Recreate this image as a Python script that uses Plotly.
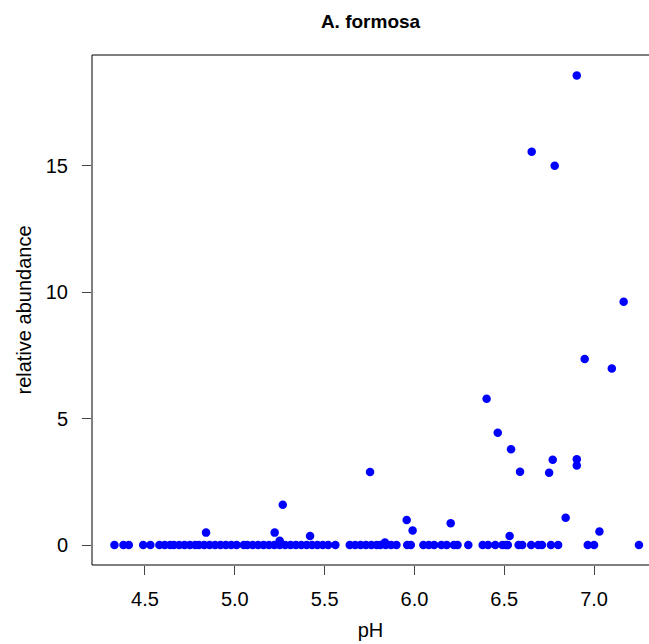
import plotly.graph_objects as go

# Elevated (non-zero) observations
ph_pos = [6.904, 6.653, 6.781, 7.165, 6.948, 7.099, 6.402, 6.464, 6.538, 6.770,
          6.904, 6.904, 6.588, 6.750, 5.753, 6.842, 5.267, 5.957, 6.202, 5.990,
          7.030, 4.840, 5.222, 5.419, 6.530, 5.250, 5.836]
abund_pos = [18.56, 15.55, 14.99, 9.62, 7.35, 6.98, 5.78, 4.44, 3.79, 3.37,
             3.39, 3.14, 2.90, 2.86, 2.89, 1.08, 1.59, 0.99, 0.86, 0.57,
             0.53, 0.49, 0.49, 0.36, 0.36, 0.17, 0.10]

# Zero observations
ph_zero = [4.33, 4.38, 4.41, 4.49, 4.53,
           4.58, 4.61, 4.64, 4.66, 4.69, 4.72, 4.75, 4.78, 4.80, 4.83, 4.86, 4.89,
           4.92, 4.95, 4.98, 5.01, 5.05,
           5.07, 5.10, 5.13, 5.16, 5.19, 5.22, 5.25, 5.28, 5.31, 5.34, 5.37, 5.40,
           5.43, 5.46, 5.49, 5.52, 5.56,
           5.64, 5.67, 5.70, 5.73, 5.76, 5.79, 5.81, 5.84, 5.87, 5.90,
           5.96, 5.98, 6.05, 6.08, 6.11, 6.15, 6.18, 6.22, 6.24, 6.30,
           6.38, 6.41, 6.45, 6.49, 6.51, 6.52, 6.58, 6.60, 6.65, 6.69, 6.71,
           6.76, 6.80, 6.965, 7.00, 7.25]
abund_zero = [0.0] * len(ph_zero)

x_ticks = [4.5, 5.0, 5.5, 6.0, 6.5, 7.0]
y_ticks = [0, 5, 10, 15]

ph = ph_zero + ph_pos
abund = abund_zero + abund_pos

font = "Liberation Sans, Arial, Helvetica, sans-serif"

fig = go.Figure(go.Scatter(
    x=ph, y=abund, mode="markers",
    marker=dict(color="#0000FF", size=8.5, line=dict(width=0)),
    cliponaxis=False, hoverinfo="skip"))

box = dict(type="line", xref="paper", yref="paper",
           line=dict(color="black", width=1))
fig.update_layout(
    width=649, height=644,
    margin=dict(l=92, r=0, t=55, b=79),
    paper_bgcolor="white", plot_bgcolor="white",
    showlegend=False,
    font=dict(family=font, size=20, color="black"),
    title=dict(text="<b>A. formosa</b>", x=0.5, xref="paper", xanchor="center",
               y=1 - 21 / 644, yref="container", yanchor="middle",
               font=dict(family=font, size=19, color="black")),
    shapes=[
        dict(box, x0=0, x1=0, y0=0, y1=1),
        dict(box, x0=0, x1=1, y0=0, y1=0),
        dict(box, x0=0, x1=1, y0=1, y1=1),
    ],
)

fig.update_xaxes(
    range=[4.205, 7.306], tickvals=x_ticks, ticktext=[f"{v:.1f}" for v in x_ticks],
    showgrid=False, zeroline=False, showline=False,
    ticks="outside", ticklen=9, tickcolor="#444", tickwidth=1,
    ticklabelstandoff=7,
    tickfont=dict(size=20),
    title=dict(text="pH", font=dict(size=20), standoff=13),
)
fig.update_yaxes(
    range=[-0.79, 19.37], tickvals=y_ticks, ticktext=[str(v) for v in y_ticks],
    showgrid=False, zeroline=False, showline=False,
    ticks="outside", ticklen=9, tickcolor="#444", tickwidth=1,
    ticklabelstandoff=10,
    tickfont=dict(size=20),
    title=dict(text="relative abundance", font=dict(size=20), standoff=8),
)

fig.write_html("out.html")
